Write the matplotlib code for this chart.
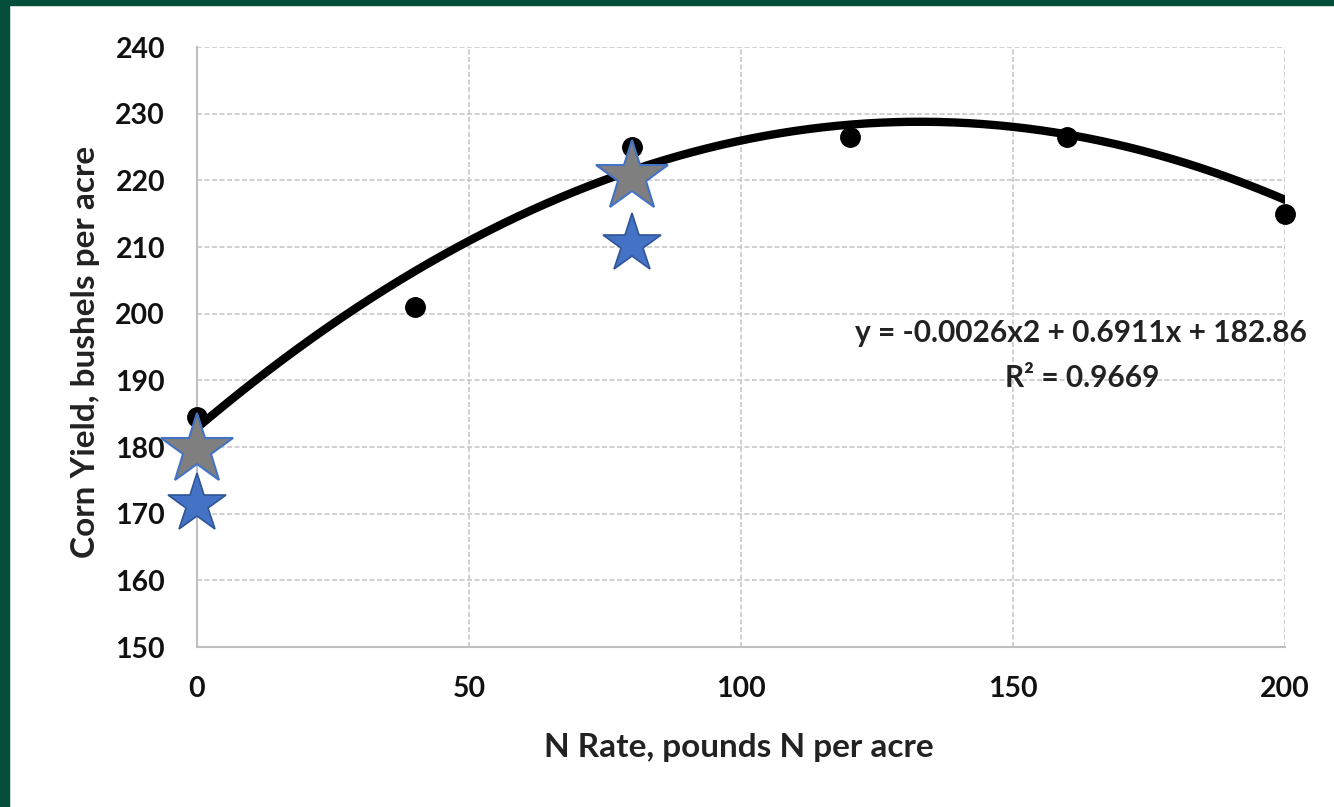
import numpy as np
import matplotlib
matplotlib.use("Agg")
import matplotlib.pyplot as plt
from matplotlib.patches import Rectangle

plt.rcParams["font.family"] = ["Lato", "DejaVu Sans"]

# ── data ─────────────────────────────────────────────────────────────────────
n_rate = [0, 40, 80, 120, 160, 200]
yield_obs = [184.5, 201.0, 225.0, 226.5, 226.5, 215.0]

gray_x = [0, 80]
gray_y = [179.5, 220.5]
blue_x = [0, 80]
blue_y = [171.5, 210.5]

coef = [-0.0026, 0.6911, 182.86]   # trendline shown on chart
eq_text = "y = -0.0026x2 + 0.6911x + 182.86"
r2_text = "R² = 0.9669"

x_ticks = [0, 50, 100, 150, 200]
y_ticks = [150, 160, 170, 180, 190, 200, 210, 220, 230, 240]

# ── figure ───────────────────────────────────────────────────────────────────
fig = plt.figure(figsize=(13.34, 8.07), dpi=100, facecolor="white")
W, H = 1334, 807
green = "#034E3B"
fig.patches.append(Rectangle((0, 0), 9 / W, 1, transform=fig.transFigure, color=green, zorder=0))
fig.patches.append(Rectangle((0, 1 - 5 / H), 1, 5 / H, transform=fig.transFigure, color=green, zorder=0))

ax = fig.add_axes([197 / W, 1 - 647 / H, (1285 - 197) / W, (647 - 47) / H])
ax.set_xlim(0, 200)
ax.set_ylim(150, 240)
ax.set_xticks(x_ticks)
ax.set_yticks(y_ticks)
ax.grid(True, color="#C8C8C8", ls=(0, (3, 1.5)), lw=1.2)
ax.set_axisbelow(True)
for s in ["top", "right"]:
    ax.spines[s].set_visible(False)
for s in ["left", "bottom"]:
    ax.spines[s].set_color("#BFBFBF")
    ax.spines[s].set_linewidth(1.5)
ax.tick_params(length=0, labelsize=20.5, labelcolor="#111111")
ax.tick_params(axis="y", pad=23)
ax.tick_params(axis="x", pad=21)
for lab in ax.get_xticklabels() + ax.get_yticklabels():
    lab.set_fontweight("bold")

xs = np.linspace(0, 200, 300)
ax.plot(xs, np.polyval(coef, xs), color="black", lw=6, zorder=3, solid_capstyle="round")
ax.plot(n_rate, yield_obs, "o", color="black", ms=14, zorder=4, clip_on=False)

ax.plot(gray_x, gray_y, "*", ms=54, color="#7F7F7F", mec="#4472C4", mew=1.5, zorder=5, clip_on=False)
ax.plot(blue_x, blue_y, "*", ms=44, color="#4472C4", mec="#2F5597", mew=1.2, zorder=5, clip_on=False)

ax.text(1081 / W, 1 - 333 / H, eq_text, transform=fig.transFigure, ha="center", va="center",
        fontsize=21.5, fontweight="bold", color="#222222")
ax.text(1082 / W, 1 - 378 / H, r2_text, transform=fig.transFigure, ha="center", va="center",
        fontsize=21.5, fontweight="bold", color="#222222")

fig.text(739 / W, 1 - 747 / H, "N Rate, pounds N per acre", ha="center", va="center",
         fontsize=24, fontweight="bold", color="#222222")
fig.text(86 / W, 1 - 352 / H, "Corn Yield, bushels per acre", ha="center", va="center",
         rotation=90, fontsize=24, fontweight="bold", color="#222222")

fig.savefig("out.png", dpi=100, facecolor="white")
